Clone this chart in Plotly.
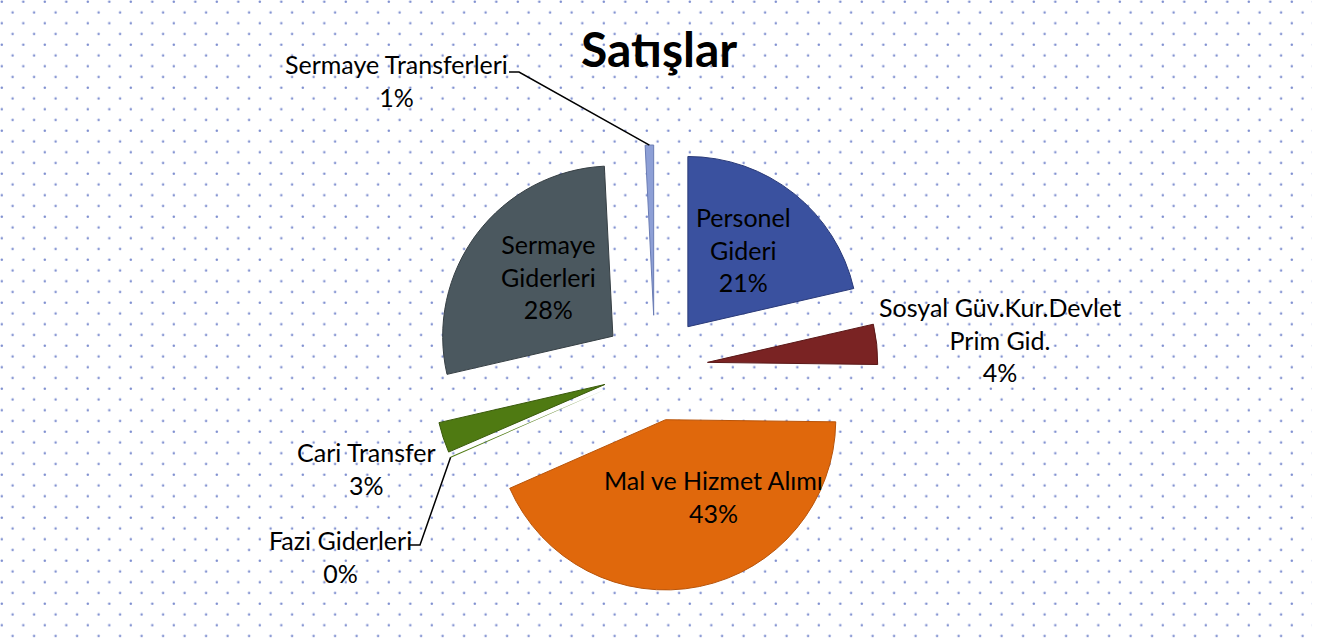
import base64
import math
import plotly.graph_objects as go

# ---------------- data ----------------
labels = ["Personel Gideri", "Sosyal Güv.Kur.Devlet Prim Gid.", "Mal ve Hizmet Alımı",
          "Fazi Giderleri", "Cari Transfer", "Sermaye Giderleri", "Sermaye Transferleri"]
label_lines = ["Personel<br>Gideri", "Sosyal Güv.Kur.Devlet<br>Prim Gid.", "Mal ve Hizmet Alımı",
               "Fazi Giderleri", "Cari Transfer", "Sermaye<br>Giderleri", "Sermaye Transferleri"]
values = [21.4, 3.8, 43.2, 0.1, 2.9, 27.8, 0.8]
colors = ["#3a519f", "#7a2323", "#e0680c", "#4f7a12", "#4f7a12", "#4b585f", "#8d9fd6"]
edge_colors = ["#2a3a78", "#5a1818", "#b8540a", "#4f7a12", "#3a5a0c", "#363f44", "#6a7cb4"]
edge_widths = [1, 1, 1, 0, 1, 1, 1]
title_text = "Satışlar"

# ---------------- geometry / style ----------------
W, H = 1319, 642
FONT = "Lato"
FS = 25
PULL = 0.31
cx_px, cy_px, half = 655, 368, 223          # pie centre and outer extent (px)

total = sum(values)
pcts = [round(v / total * 100) for v in values]

fig = go.Figure()
fig.add_trace(go.Pie(
    labels=labels, values=values, sort=False, direction="clockwise", rotation=0,
    pull=[PULL] * len(values),
    marker=dict(colors=colors, line=dict(width=edge_widths, color=edge_colors)),
    textinfo="none",
    hoverinfo="label+percent", showlegend=False,
    domain=dict(x=[(cx_px - half) / W, (cx_px + half) / W],
                y=[1 - (cy_px + half) / H, 1 - (cy_px - half) / H]),
))

# slice tip positions (computed from the data)
def tip(i, frac_in_slice=0.5):
    start = sum(values[:i]) / total
    a = (start + values[i] / total * frac_in_slice) * 2 * math.pi
    x = cx_px + half * math.sin(a)
    y = cy_px - half * math.cos(a)
    return x / W, 1 - y / H

def px(x, y):
    return x / W, 1 - y / H

label_pos = {0: (743, 250), 1: (1000, 340), 2: (713, 496), 3: (340, 556),
             4: (366, 468), 5: (548, 276), 6: (396, 81)}
annotations = []
for i, (x, y) in label_pos.items():
    ax_, ay_ = px(x, y)
    annotations.append(dict(text=f"{label_lines[i]}<br>{pcts[i]}%", x=ax_, y=ay_,
                            xref="paper", yref="paper", showarrow=False, align="center",
                            xanchor="center", yanchor="middle",
                            font=dict(family=FONT, size=FS, color="#000000")))
tx, ty = px(659, 48)
annotations.append(dict(text=f"<b>{title_text}</b>", x=tx, y=ty,
                        xref="paper", yref="paper", showarrow=False,
                        xanchor="center", yanchor="middle",
                        font=dict(family=FONT, size=48, color="#000000")))

# leader lines
shapes = []
def leader(p0, p1, t):
    return dict(type="path", xref="paper", yref="paper",
                path=f"M {p0[0]} {p0[1]} L {p1[0]} {p1[1]} L {t[0]} {t[1]}",
                line=dict(color="#000000", width=1.5))
shapes.append(leader(px(509, 72), px(519, 72), tip(6)))
shapes.append(leader(px(409, 545), px(420, 545), tip(3)))

# dotted background
svg = (f'<svg xmlns="http://www.w3.org/2000/svg" width="{W}" height="{H}">'
       '<defs><pattern id="p" width="21.5" height="21.5" patternUnits="userSpaceOnUse">'
       '<circle cx="1.8" cy="1.7" r="1.25" fill="#8090d0"/>'
       '<circle cx="12.6" cy="12.5" r="1.25" fill="#8090d0"/>'
       '</pattern></defs>'
       f'<rect width="1312" height="{H}" fill="url(#p)"/></svg>')
src = "data:image/svg+xml;base64," + base64.b64encode(svg.encode()).decode()

fig.update_layout(
    width=W, height=H, margin=dict(l=0, r=0, t=0, b=0),
    paper_bgcolor="#ffffff", plot_bgcolor="#ffffff",
    annotations=annotations, shapes=shapes,
    images=[dict(source=src, xref="paper", yref="paper", x=0, y=1, sizex=1, sizey=1,
                 xanchor="left", yanchor="top", sizing="stretch", layer="below")],
    font=dict(family=FONT),
)

fig.write_html("out.html", config={"displayModeBar": False},
               post_script="document.body.style.margin='0';")
